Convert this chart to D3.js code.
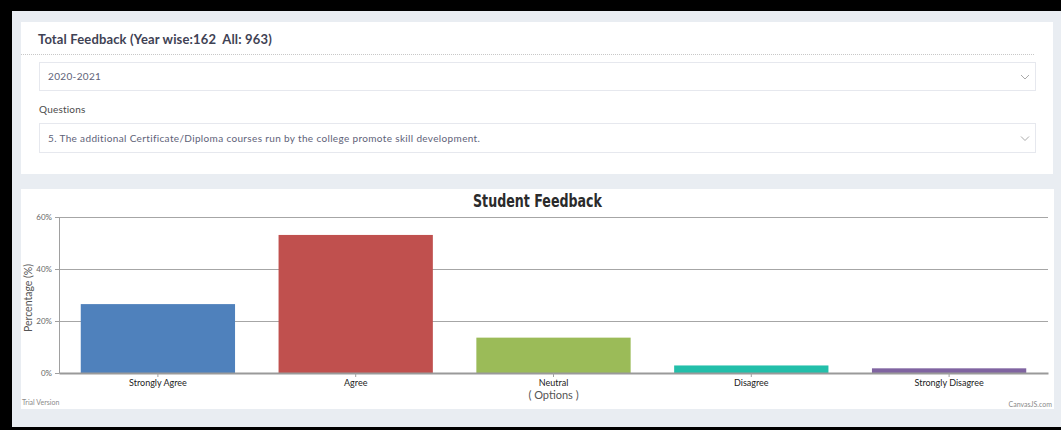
<!DOCTYPE html>
<html>
<head>
<meta charset="utf-8">
<script src="https://cdn.jsdelivr.net/npm/d3@7"></script>
<style>
  body { margin: 0; background: #000; overflow: hidden; }
  svg { display: block; }
</style>
</head>
<body>
<svg id="page"></svg>
<script>
// chart values
const categories = ['Strongly Agree', 'Agree', 'Neutral', 'Disagree', 'Strongly Disagree'];
const percentages = [26.5, 53.1, 13.6, 2.9, 1.8];
const barColors = ['#4f81bc', '#c0504e', '#9bbb58', '#23bfaa', '#8064a1'];
const yTicks = [0, 20, 40, 60];

const pageW = 1061;
const pageH = 430;

const page = d3.select('#page')
  .attr('width', pageW)
  .attr('height', pageH);

// page background + cards
page.append('rect').attr('width', pageW).attr('height', pageH).attr('fill', '#000');
page.append('rect').attr('x', 12).attr('y', 11).attr('width', 1049).attr('height', 416).attr('fill', '#e9edf2');
page.append('rect').attr('x', 21).attr('y', 22).attr('width', 1032).attr('height', 152).attr('fill', '#fff');
page.append('rect').attr('x', 21).attr('y', 189).attr('width', 1033).attr('height', 220).attr('fill', '#fff');

// filter panel
page.append('text')
  .attr('x', 38).attr('y', 44)
  .style('font-family', 'Lato, sans-serif')
  .style('font-weight', 700)
  .style('font-size', '13px')
  .style('letter-spacing', '0.15px')
  .style('fill', '#3f4254')
  .style('white-space', 'pre')
  .text('Total Feedback (Year wise:162  All: 963)');

page.append('line')
  .attr('x1', 21).attr('x2', 1035).attr('y1', 54.5).attr('y2', 54.5)
  .attr('stroke', '#c8c8c8').attr('stroke-dasharray', '1,1');

function selectBox(y, h, label) {
  page.append('rect')
    .attr('x', 39.5).attr('y', y + 0.5).attr('width', 996).attr('height', h)
    .attr('fill', '#fff').attr('stroke', '#e6e8ee');
  page.append('text')
    .attr('x', 48).attr('y', y + h / 2 + 4)
    .style('font-family', 'Lato, sans-serif')
    .style('font-size', '10px')
    .style('letter-spacing', '0.35px')
    .style('fill', '#5e6278')
    .text(label);
  const cy = y + h / 2 + 1;
  page.append('path')
    .attr('d', `M1021,${cy - 2}L1025,${cy + 2}L1029,${cy - 2}`)
    .attr('fill', 'none').attr('stroke', '#aaa');
}

selectBox(62, 28, '2020-2021');
page.append('text')
  .attr('x', 39).attr('y', 113)
  .style('font-family', 'Lato, sans-serif')
  .style('font-size', '10px')
  .style('letter-spacing', '0.2px')
  .style('fill', '#4a4a4a')
  .text('Questions');
selectBox(123, 29, '5. The additional Certificate/Diploma courses run by the college promote skill development.');

// chart, laid out in page coordinates
const card = { x: 21, y: 189, w: 1033, h: 220 };
const plot = { left: 59, right: 1048, top: 217, bottom: 373 };

const data = categories.map((c, i) => ({ cat: c, value: percentages[i], color: barColors[i] }));

const xScale = d3.scaleBand()
  .domain(categories)
  .range([plot.left, plot.right])
  .paddingInner(0.22)
  .paddingOuter(0.11);

const yScale = d3.scaleLinear()
  .domain([0, 60])
  .range([plot.bottom, plot.top]);

// title
page.append('text')
  .attr('x', card.x + card.w / 2)
  .attr('y', card.y + 18)
  .attr('text-anchor', 'middle')
  .attr('textLength', 129)
  .attr('lengthAdjust', 'spacingAndGlyphs')
  .style('font-family', '"DejaVu Sans", sans-serif')
  .style('font-weight', 'bold')
  .style('font-size', '18px')
  .style('fill', '#2b2b2b')
  .text('Student Feedback');

// gridlines
page.append('g')
  .selectAll('line')
  .data(yTicks.filter(d => d > 0))
  .enter().append('line')
  .attr('x1', plot.left)
  .attr('x2', plot.right)
  .attr('y1', d => Math.round(yScale(d)) + 0.5)
  .attr('y2', d => Math.round(yScale(d)) + 0.5)
  .attr('stroke', '#a6a6a6');

// y axis with labels
const yAxisG = page.append('g')
  .attr('transform', `translate(${plot.left},0)`)
  .call(d3.axisLeft(yScale).tickValues(yTicks).tickSize(4).tickPadding(3).tickFormat(d => d + '%'));
yAxisG.select('.domain').attr('stroke', '#a0a0a0');
yAxisG.selectAll('.tick line').attr('stroke', '#a0a0a0');
yAxisG.selectAll('.tick text')
  .style('font-family', 'Lato, sans-serif')
  .style('font-size', '8px')
  .style('fill', '#666');

// bars
page.append('g')
  .selectAll('rect')
  .data(data)
  .enter().append('rect')
  .attr('x', d => xScale(d.cat))
  .attr('y', d => yScale(d.value))
  .attr('width', xScale.bandwidth())
  .attr('height', d => plot.bottom - yScale(d.value))
  .attr('fill', d => d.color);

// x axis
const xAxisG = page.append('g')
  .attr('transform', `translate(0,${plot.bottom})`)
  .call(d3.axisBottom(xScale).tickSize(4).tickPadding(3).tickSizeOuter(0));
xAxisG.select('.domain').attr('stroke', '#9a9a9a').attr('stroke-width', 2);
xAxisG.selectAll('.tick line').attr('stroke', '#a0a0a0');
xAxisG.selectAll('.tick text')
  .style('font-family', 'Lato, sans-serif')
  .style('font-size', '9px')
  .style('fill', '#222');

// axis titles
page.append('text')
  .attr('x', (plot.left + plot.right) / 2)
  .attr('y', plot.bottom + 26)
  .attr('text-anchor', 'middle')
  .style('font-family', 'Lato, sans-serif')
  .style('font-size', '11px')
  .style('fill', '#555')
  .text('( Options )');

page.append('text')
  .attr('transform', `translate(${plot.left - 27},${(plot.top + plot.bottom) / 2 + 3}) rotate(-90)`)
  .attr('text-anchor', 'middle')
  .style('font-family', 'Lato, sans-serif')
  .style('font-size', '10.5px')
  .style('fill', '#555')
  .text('Percentage (%)');

// credits
page.append('text')
  .attr('x', card.x + 1)
  .attr('y', card.y + 216)
  .style('font-family', 'Lato, sans-serif')
  .style('font-size', '7px')
  .style('fill', '#8a8a8a')
  .text('Trial Version');

page.append('text')
  .attr('x', card.x + card.w - 2)
  .attr('y', card.y + 218)
  .attr('text-anchor', 'end')
  .style('font-family', 'Lato, sans-serif')
  .style('font-size', '7px')
  .style('fill', '#8a8a8a')
  .text('CanvasJS.com');
</script>
</body>
</html>
